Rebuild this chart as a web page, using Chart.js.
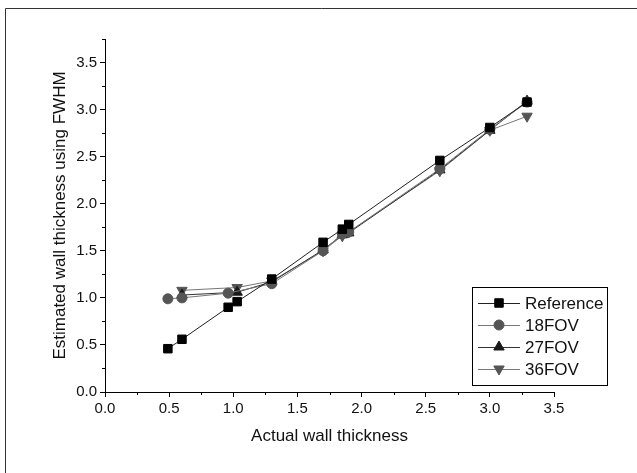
<!DOCTYPE html>
<html>
<head>
<meta charset="utf-8">
<script src="https://cdn.jsdelivr.net/npm/chart.js@4/dist/chart.umd.min.js"></script>
<style>
  html, body { margin: 0; padding: 0; background: #fff; }
  #wrap { width: 637px; height: 473px; }
</style>
</head>
<body>
<div id="wrap"><canvas id="wallChart" width="637" height="473"></canvas></div>
<script>
// values
const refX = [0.49, 0.60, 0.96, 1.03, 1.30, 1.70, 1.85, 1.90, 2.61, 3.00, 3.29];
const refY = [0.46, 0.56, 0.90, 0.96, 1.20, 1.59, 1.73, 1.78, 2.46, 2.81, 3.08];

const fov18X = [0.49, 0.60, 0.96, 1.30, 1.70, 1.85, 1.90, 2.61, 3.00, 3.29];
const fov18Y = [0.99, 1.00, 1.05, 1.15, 1.50, 1.68, 1.70, 2.37, 2.79, 3.08];

const fovX = [0.60, 1.03, 1.30, 1.70, 1.85, 1.90, 2.61, 3.00, 3.29];
const fov27Y = [1.03, 1.06, 1.17, 1.51, 1.67, 1.69, 2.36, 2.78, 3.09];
const fov36Y = [1.08, 1.11, 1.18, 1.50, 1.66, 1.70, 2.35, 2.78, 2.93];

const xTicks = { min: 0, max: 3.5, step: 0.25 };
const yTicks = { min: 0, max: 3.75, step: 0.25 };

const FONT = "'Liberation Sans', Arial, sans-serif";

const pts = (xs, ys) => xs.map((x, i) => ({ x: x, y: ys[i] }));
const isMajor = v => Math.abs(v * 2 - Math.round(v * 2)) < 1e-6;

// outer frame like the exported figure (top and left edges only)
const framePlugin = {
  id: 'frame',
  beforeDraw(chart) {
    const ctx = chart.ctx;
    ctx.save();
    ctx.fillStyle = '#fff';
    ctx.fillRect(0, 0, chart.width, chart.height);
    ctx.strokeStyle = '#333';
    ctx.lineWidth = 1;
    ctx.beginPath();
    ctx.moveTo(5.5, chart.height);
    ctx.lineTo(5.5, 8.5);
    ctx.lineTo(chart.width, 8.5);
    ctx.stroke();
    ctx.restore();
  }
};

// short minor ticks between the labelled ones
const minorTicks = {
  id: 'minorTicks',
  afterDraw(chart) {
    const ctx = chart.ctx;
    const xs = chart.scales.x, ys = chart.scales.y;
    ctx.save();
    ctx.strokeStyle = '#000';
    ctx.lineWidth = 1;
    ctx.beginPath();
    xs.ticks.forEach(t => {
      if (isMajor(t.value)) return;
      const px = Math.round(xs.getPixelForValue(t.value)) + 0.5;
      ctx.moveTo(px, xs.top);
      ctx.lineTo(px, xs.top + 3);
    });
    ys.ticks.forEach(t => {
      if (isMajor(t.value)) return;
      const py = Math.round(ys.getPixelForValue(t.value)) + 0.5;
      ctx.moveTo(ys.right, py);
      ctx.lineTo(ys.right - 3, py);
    });
    ctx.stroke();
    ctx.restore();
  }
};

// boxed legend inside the plot, line + marker samples
const legendBox = {
  id: 'legendBox',
  afterDraw(chart) {
    const ctx = chart.ctx;
    const area = chart.chartArea;
    const w = 135, rowH = 22;
    const sets = chart.data.datasets;
    const h = rowH * sets.length + 10;
    const left = Math.round(area.right + 53 - w);
    const top = Math.round(area.bottom - 7 - h);
    ctx.save();
    ctx.strokeStyle = '#000';
    ctx.lineWidth = 1;
    ctx.strokeRect(left + 0.5, top + 0.5, w, h);
    ctx.font = '17px ' + FONT;
    ctx.textBaseline = 'middle';
    ctx.textAlign = 'left';
    sets.forEach((ds, i) => {
      const y = top + 16 + rowH * i;
      ctx.strokeStyle = ds.borderColor;
      ctx.beginPath();
      ctx.moveTo(left + 6, y + 0.5);
      ctx.lineTo(left + 48, y + 0.5);
      ctx.stroke();
      ctx.fillStyle = ds.pointBackgroundColor;
      ctx.strokeStyle = ds.pointBorderColor;
      Chart.helpers.drawPoint(ctx, {
        pointStyle: ds.pointStyle,
        rotation: ds.pointRotation || 0,
        radius: ds.pointRadius,
        borderWidth: 1
      }, left + 27, y);
      ctx.fillStyle = '#111';
      ctx.fillText(ds.label, left + 53, y + 1);
    });
    ctx.restore();
  }
};

function series(label, data, line, fill, style, radius, rot) {
  return {
    label: label,
    data: data,
    showLine: true,
    borderColor: line,
    borderWidth: 1,
    pointBackgroundColor: fill,
    pointBorderColor: fill,
    pointBorderWidth: 1,
    pointStyle: style,
    pointRadius: radius,
    pointHoverRadius: radius,
    pointRotation: rot || 0
  };
}

const tickLabel = v => (isMajor(v) ? v.toFixed(1) : '');
const tickColor = c => (isMajor(c.tick.value) ? '#000' : 'rgba(0,0,0,0)');

new Chart(document.getElementById('wallChart'), {
  type: 'scatter',
  data: {
    datasets: [
      series('Reference', pts(refX, refY), '#222', '#000', 'rect', 6),
      series('18FOV', pts(fov18X, fov18Y), '#777', '#555', 'circle', 5),
      series('27FOV', pts(fovX, fov27Y), '#333', '#1a1a1a', 'triangle', 6),
      series('36FOV', pts(fovX, fov36Y), '#777', '#555', 'triangle', 6, 180)
    ]
  },
  options: {
    responsive: false,
    animation: false,
    events: [],
    layout: { padding: { left: 50, right: 83, top: 39, bottom: 26 } },
    plugins: {
      legend: { display: false },
      tooltip: { enabled: false }
    },
    scales: {
      x: {
        type: 'linear',
        min: xTicks.min,
        max: xTicks.max,
        afterFit(scale) { scale.height = 55; },
        border: { display: true, color: '#000', width: 1 },
        grid: { drawOnChartArea: false, drawTicks: true, tickLength: 5, tickColor: tickColor },
        ticks: {
          stepSize: xTicks.step, maxTicksLimit: 30, autoSkip: false, maxRotation: 0,
          padding: 3, color: '#111', font: { family: FONT, size: 15 }, callback: tickLabel
        },
        title: {
          display: true, text: 'Actual wall thickness', color: '#111',
          padding: 0, font: { family: FONT, size: 17 }
        }
      },
      y: {
        type: 'linear',
        min: yTicks.min,
        max: yTicks.max,
        afterFit(scale) { scale.width = 55; },
        border: { display: true, color: '#000', width: 1 },
        grid: { drawOnChartArea: false, drawTicks: true, tickLength: 5, tickColor: tickColor },
        ticks: {
          stepSize: yTicks.step, maxTicksLimit: 30, autoSkip: false,
          padding: 3, color: '#111', font: { family: FONT, size: 15 }, callback: tickLabel
        },
        title: {
          display: true, text: 'Estimated wall thickness using FWHM', color: '#111',
          padding: 0, font: { family: FONT, size: 17 }
        }
      }
    }
  },
  plugins: [framePlugin, minorTicks, legendBox]
});
</script>
</body>
</html>
